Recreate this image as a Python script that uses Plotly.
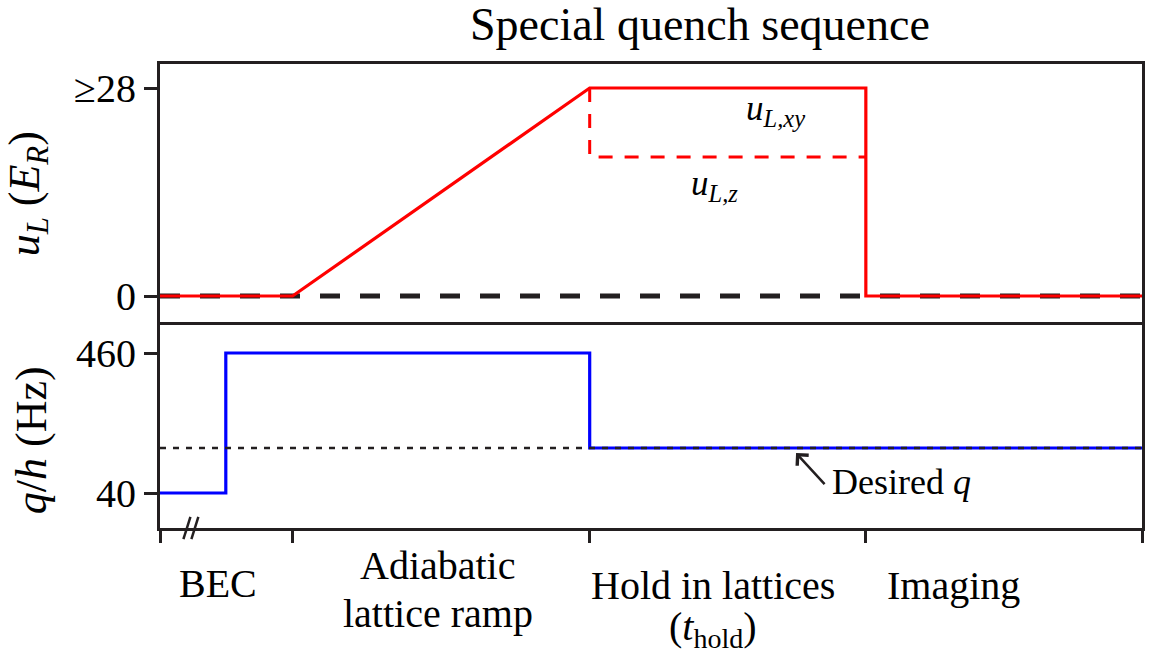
import plotly.graph_objects as go

# Sequence timeline (arbitrary time units); phase boundaries on the shared x axis
phase_edges = [0, 1.33, 4.31, 7.08, 9.85]
phase_line1 = ["BEC", "Adiabatic", "Hold in lattices", "Imaging"]
phase_line2 = ["", "lattice ramp", "(<i>t</i><sub>hold</sub>)", ""]
phase_label_x = [0.58, 2.79, 5.55, 7.96]
phase_line1_y = [-0.119, -0.080, -0.123, -0.123]
phase_line2_y = [None, -0.185, -0.218, None]

# Lattice depth u_L (E_R)
uxy_t = [0, 1.33, 4.31, 7.08, 7.08, 9.85]
uxy_v = [0, 0, 28, 28, 0, 0]
uz_t = [4.31, 4.31, 7.08]
uz_v = [28, 18.7, 18.7]
u_ticks = [0, 28]
u_ticktext = ["0", "≥28"]

# Quadratic Zeeman shift q/h (Hz)
q_t = [0, 0.66, 0.66, 4.31, 4.31, 9.85]
q_v = [40, 40, 460, 460, 175, 175]
q_desired = 175
q_ticks = [40, 460]

# Axis break position on the time axis
break_x = [0.27, 0.35]

FONT = "Liberation Serif"
INK = "#231f20"

fig = go.Figure()

# Top panel: zero reference and lattice ramps
fig.add_trace(go.Scatter(x=[phase_edges[0], phase_edges[-1]], y=[0, 0], mode="lines",
                         line=dict(color=INK, width=5, dash="20px,20px"),
                         xaxis="x2", yaxis="y2", hoverinfo="skip"))
fig.add_trace(go.Scatter(x=uz_t, y=uz_v, mode="lines",
                         line=dict(color="#ff0000", width=3, dash="14px,12px"),
                         xaxis="x2", yaxis="y2"))
fig.add_trace(go.Scatter(x=uxy_t, y=uxy_v, mode="lines",
                         line=dict(color="#ff0000", width=3.2),
                         xaxis="x2", yaxis="y2"))

# Bottom panel: q steps and the desired value
fig.add_trace(go.Scatter(x=q_t, y=q_v, mode="lines",
                         line=dict(color="#0000ff", width=3.2),
                         xaxis="x", yaxis="y"))
fig.add_trace(go.Scatter(x=[phase_edges[0], phase_edges[-1]], y=[q_desired, q_desired],
                         mode="lines", line=dict(color=INK, width=2.5, dash="6px,7px"),
                         xaxis="x", yaxis="y", hoverinfo="skip"))

xr = [phase_edges[0], phase_edges[-1]]
line_style = dict(showline=True, linecolor=INK, linewidth=3,
                  showgrid=False, zeroline=False)

fig.update_layout(
    width=1153, height=659, autosize=False,
    margin=dict(l=160, r=8, t=64, b=131),
    paper_bgcolor="white", plot_bgcolor="white",
    showlegend=False,
    font=dict(family=FONT, color="black", size=39),
    # bottom time axis: its mirror line is the divider between the panels
    xaxis=dict(range=xr, domain=[0, 1], anchor="y", tickmode="array",
               tickvals=phase_edges, showticklabels=False,
               ticks="outside", ticklen=12, tickwidth=3, tickcolor=INK,
               mirror=True, **line_style),
    # top panel frame line
    xaxis2=dict(range=xr, domain=[0, 1], anchor="y2", matches="x", side="top",
                showticklabels=False, ticks="", mirror=False, **line_style),
    yaxis=dict(range=[-65, 544], domain=[0, 0.4375], anchor="x", tickmode="array",
               tickvals=q_ticks, ticktext=[str(v) for v in q_ticks],
               ticks="outside", ticklen=13, tickwidth=3, tickcolor=INK,
               tickfont=dict(size=40), mirror=True, **line_style),
    yaxis2=dict(range=[-3.9, 31.23], domain=[0.4375, 1], anchor="x2", tickmode="array",
                tickvals=u_ticks, ticktext=u_ticktext,
                ticks="outside", ticklen=13, tickwidth=3, tickcolor=INK,
                tickfont=dict(size=40), mirror=True, **line_style),
)

annotations = [
    dict(text="Special quench sequence", xref="paper", yref="paper",
         x=0.550, y=1.085, xanchor="center", yanchor="middle",
         showarrow=False, font=dict(size=46)),
    dict(text="<i>u</i><sub><i>L</i></sub> (<i>E</i><sub><i>R</i></sub>)",
         xref="paper", yref="paper", x=-0.135, y=0.72, textangle=-90,
         xanchor="center", yanchor="middle", showarrow=False, font=dict(size=44)),
    dict(text="<i>q</i>/<i>h</i> (Hz)", xref="paper", yref="paper",
         x=-0.131, y=0.19, textangle=-90,
         xanchor="center", yanchor="middle", showarrow=False, font=dict(size=44)),
    dict(text="<i>u</i><sub><i>L,xy</i></sub>", xref="x2", yref="y2",
         x=6.17, y=25.0, xanchor="center", yanchor="middle",
         showarrow=False, font=dict(size=35)),
    dict(text="<i>u</i><sub><i>L,z</i></sub>", xref="x2", yref="y2",
         x=5.56, y=14.9, xanchor="center", yanchor="middle",
         showarrow=False, font=dict(size=35)),
    dict(text="", xref="x", yref="y", x=6.38, y=160, ax=6.68, ay=62,
         axref="x", ayref="y", showarrow=True, arrowhead=4, arrowsize=1.2,
         arrowwidth=2.5, arrowcolor=INK),
    dict(text="Desired <i>q</i>", xref="x", yref="y", x=6.72, y=73,
         xanchor="left", yanchor="middle", showarrow=False, font=dict(size=36)),
]
for px, t1, y1, t2, y2 in zip(phase_label_x, phase_line1, phase_line1_y,
                              phase_line2, phase_line2_y):
    annotations.append(dict(text=t1, xref="x", yref="paper", x=px, y=y1,
                            xanchor="center", yanchor="middle", showarrow=False,
                            font=dict(size=40)))
    if t2:
        annotations.append(dict(text=t2, xref="x", yref="paper", x=px, y=y2,
                                xanchor="center", yanchor="middle", showarrow=False,
                                font=dict(size=40)))
fig.update_layout(annotations=annotations)

# Axis-break marks on the time axis
for bx in break_x:
    fig.add_shape(type="line", xref="x", yref="paper",
                  x0=bx - 0.035, y0=-0.024, x1=bx + 0.035, y1=0.024,
                  line=dict(color=INK, width=2.5))

fig.write_html("out.html")
